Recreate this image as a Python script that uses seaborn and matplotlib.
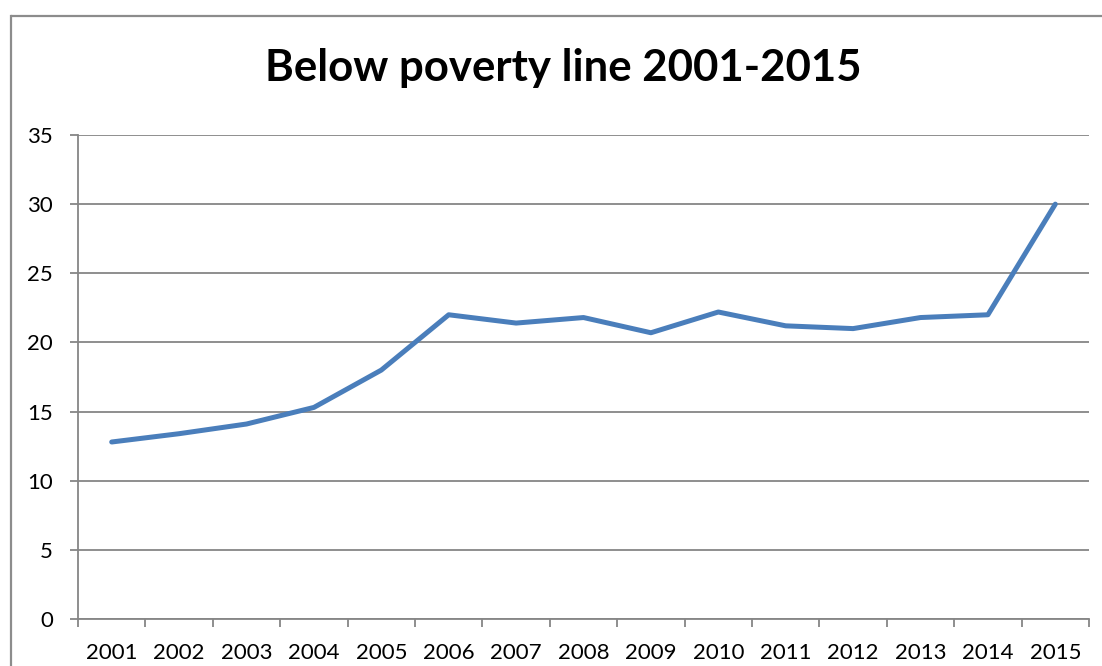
import matplotlib
matplotlib.use("Agg")
import matplotlib.pyplot as plt
import seaborn as sns
import numpy as np
import pandas as pd
from matplotlib.lines import Line2D
from matplotlib.patches import Rectangle
from matplotlib.ticker import FixedLocator

years = ["2001", "2002", "2003", "2004", "2005", "2006", "2007", "2008",
         "2009", "2010", "2011", "2012", "2013", "2014", "2015"]
values = [12.8, 13.4, 14.1, 15.3, 18.0, 22.0, 21.4, 21.8,
          20.7, 22.2, 21.2, 21.0, 21.8, 22.0, 30.0]
y_ticks = [0, 5, 10, 15, 20, 25, 30, 35]
title = "Below poverty line 2001-2015"

sns.set_theme(style="white")
plt.rcParams['font.family'] = ['Lato', 'DejaVu Sans']

df = pd.DataFrame({"pos": np.arange(len(years)), "value": values})

fig = plt.figure(figsize=(11.02, 6.66), dpi=100)
fig.patch.set_facecolor("white")
fig.patch.set_edgecolor("none")
fig.patch.set_linewidth(0)
ax = fig.add_axes([78/1102, 1-619/666, (1089-78)/1102, (619-135)/666])

grid_c = "#868686"
sns.lineplot(data=df, x="pos", y="value", ax=ax, color="#4A7EBB",
             linewidth=3.6, solid_capstyle="round", solid_joinstyle="round")

ax.set_xlim(-0.5, len(years) - 0.5)
ax.set_ylim(0, 35)
ax.set_yticks(y_ticks)
ax.set_yticklabels([str(t) for t in y_ticks])
ax.yaxis.grid(True, color=grid_c, linewidth=1.3)
ax.xaxis.grid(False)
ax.set_axisbelow(True)

ax.set_xticks(np.arange(len(years)))
ax.set_xticklabels(years)
ax.xaxis.set_minor_locator(FixedLocator(np.arange(len(years) + 1) - 0.5))
ax.tick_params(axis="x", which="major", length=0, pad=17, labelsize=16, colors="black")
ax.tick_params(axis="x", which="minor", length=5.5, width=1.3, color=grid_c, bottom=True)
ax.tick_params(axis="y", which="major", length=5.5, width=1.3, color=grid_c, left=True,
               labelsize=16, pad=12.5, colors="black")
ax.set_xlabel("")
ax.set_ylabel("")

for s in ["top", "right"]:
    ax.spines[s].set_visible(False)
for s in ["left", "bottom"]:
    ax.spines[s].set_color(grid_c)
    ax.spines[s].set_linewidth(1.3)

fig.text(0.5115, 1-68/666, title, ha="center", va="center",
         fontsize=31.5, fontweight="bold", color="black")

# cover strip at right edge
fig.add_artist(Rectangle((1092/1102, -0.1), 0.2, 1.2, transform=fig.transFigure,
                         facecolor="white", edgecolor="none", zorder=50))

x0 = 10.5/1102
y0 = 1 - 15.5/666
fig.add_artist(Line2D([x0, x0], [-0.1, y0], transform=fig.transFigure,
                      color="#8C8C8C", linewidth=1.6, solid_capstyle="projecting",
                      zorder=60))
fig.add_artist(Line2D([x0, 1.0], [y0, y0], transform=fig.transFigure,
                      color="#8C8C8C", linewidth=1.6, solid_capstyle="butt",
                      zorder=60))

fig.savefig("out.png", dpi=100, facecolor="white", edgecolor="none")
